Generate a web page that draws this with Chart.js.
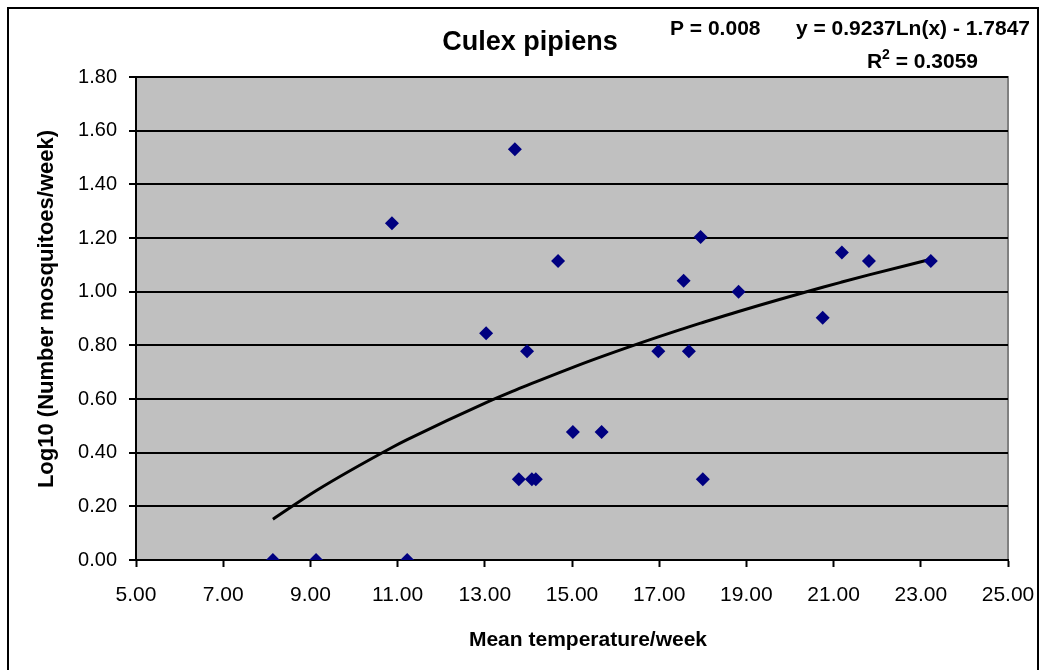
<!DOCTYPE html>
<html>
<head>
<meta charset="utf-8">
<script src="https://cdn.jsdelivr.net/npm/chart.js@4.4.1/dist/chart.umd.min.js"></script>
<style>
  body { margin: 0; background: #fff; }
</style>
</head>
<body>
<canvas id="myChart" width="1046" height="670"></canvas>
<script>
const ctx = document.getElementById('myChart');

// mean weekly temperature and log10 of weekly catch
const temps = [8.14, 9.13, 11.22, 10.87, 13.69, 13.03, 13.97, 13.78, 14.08, 14.17, 14.68,
               15.02, 15.68, 16.98, 17.56, 17.68, 17.95, 18.00, 18.82, 20.75, 21.19, 21.81, 23.23];
const logCounts = [0.000, 0.000, 0.000, 1.255, 1.531, 0.845, 0.778, 0.301, 0.301, 0.301, 1.114,
                   0.477, 0.477, 0.778, 1.041, 0.778, 1.204, 0.301, 1.000, 0.903, 1.146, 1.114, 1.114];

// logarithmic trendline y = a*ln(x) + b
const trendA = 0.9237;
const trendB = -1.7847;

const xTicks = [5, 7, 9, 11, 13, 15, 17, 19, 21, 23, 25];
const yTicks = [0, 0.2, 0.4, 0.6, 0.8, 1.0, 1.2, 1.4, 1.6, 1.8];

const FONT = '"Liberation Sans", Arial, sans-serif';

let pts = [];
for (let i = 0; i < temps.length; i++) {
    pts.push({ x: temps[i], y: logCounts[i] });
}

let trend = temps.slice().sort((a, b) => a - b).map(x => ({ x: x, y: trendA * Math.log(x) + trendB }));

// gray plot area, outer frame, header text and axis titles
const decor = {
    id: 'decor',
    beforeDraw(chart) {
        const c = chart.ctx;
        const a = chart.chartArea;
        c.save();
        c.fillStyle = '#fff';
        c.fillRect(0, 0, chart.width, chart.height);
        c.strokeStyle = '#000';
        c.lineWidth = 2;
        c.strokeRect(8, 8, 1030, 700);
        c.fillStyle = '#c0c0c0';
        c.fillRect(a.left, a.top, a.right - a.left, a.bottom - a.top);
        c.strokeStyle = '#808080';
        c.lineWidth = 2;
        c.beginPath();
        c.moveTo(a.left, a.top);
        c.lineTo(a.right, a.top);
        c.lineTo(a.right, a.bottom);
        c.stroke();
        c.restore();
    },
    afterDraw(chart) {
        const c = chart.ctx;
        c.save();
        c.fillStyle = '#000';
        c.textBaseline = 'alphabetic';

        c.font = 'bold 27px ' + FONT;
        c.textAlign = 'center';
        c.fillText('Culex pipiens', 530, 50);

        c.font = 'bold 21px ' + FONT;
        c.textAlign = 'left';
        c.fillText('P = 0.008', 670, 35);
        c.textAlign = 'right';
        c.fillText('y = 0.9237Ln(x) - 1.7847', 1030, 35);

        // R² with raised 2
        const rest = ' = 0.3059';
        const wRest = c.measureText(rest).width;
        c.fillText(rest, 978, 68);
        c.font = 'bold 14px ' + FONT;
        const w2 = c.measureText('2').width;
        c.fillText('2', 978 - wRest, 59);
        c.font = 'bold 21px ' + FONT;
        c.fillText('R', 978 - wRest - w2, 68);

        // axis titles
        c.textAlign = 'center';
        c.textBaseline = 'middle';
        c.fillText('Mean temperature/week', 588, 640);
        c.translate(47, 309);
        c.rotate(-Math.PI / 2);
        c.font = 'bold 22px ' + FONT;
        c.fillText('Log10 (Number mosquitoes/week)', 0, 0);
        c.restore();
    }
};

new Chart(ctx, {
    type: 'scatter',
    data: {
        datasets: [{
            label: 'Culex pipiens',
            data: pts,
            pointStyle: 'rectRot',
            pointRadius: 7,
            pointHoverRadius: 7,
            backgroundColor: '#000080',
            borderColor: '#000080',
            borderWidth: 0,
            order: 0
        }, {
            label: 'Trend',
            data: trend,
            showLine: true,
            pointRadius: 0,
            borderColor: '#000',
            borderWidth: 3,
            cubicInterpolationMode: 'monotone',
            order: 1
        }]
    },
    options: {
        responsive: false,
        animation: false,
        events: [],
        layout: {
            padding: { left: 8, top: 77, right: 38, bottom: 0 }
        },
        plugins: {
            legend: { display: false },
            tooltip: { enabled: false }
        },
        scales: {
            x: {
                type: 'linear',
                min: 5,
                max: 25,
                afterBuildTicks: s => { s.ticks = xTicks.map(v => ({ value: v })); },
                afterFit: s => {
                    s.height = 110;
                    s.paddingLeft = 0;
                    s.paddingRight = 0;
                },
                ticks: {
                    padding: 16,
                    color: '#000',
                    font: { family: FONT, size: 21 },
                    callback: v => v.toFixed(2)
                },
                grid: {
                    drawOnChartArea: false,
                    drawTicks: true,
                    tickLength: 7,
                    tickColor: '#000',
                    tickWidth: 2
                },
                border: { color: '#000', width: 2 }
            },
            y: {
                type: 'linear',
                min: 0,
                max: 1.8,
                afterBuildTicks: s => { s.ticks = yTicks.map(v => ({ value: v })); },
                afterFit: s => {
                    s.width = 128;
                    s.paddingTop = 0;
                    s.paddingBottom = 0;
                },
                ticks: {
                    padding: 12,
                    color: '#000',
                    font: { family: FONT, size: 20 },
                    callback: v => v.toFixed(2)
                },
                grid: {
                    color: '#000',
                    lineWidth: 2,
                    drawTicks: true,
                    tickLength: 7,
                    tickColor: '#000',
                    tickWidth: 2
                },
                border: { color: '#000', width: 2 }
            }
        }
    },
    plugins: [decor]
});
</script>
</body>
</html>
